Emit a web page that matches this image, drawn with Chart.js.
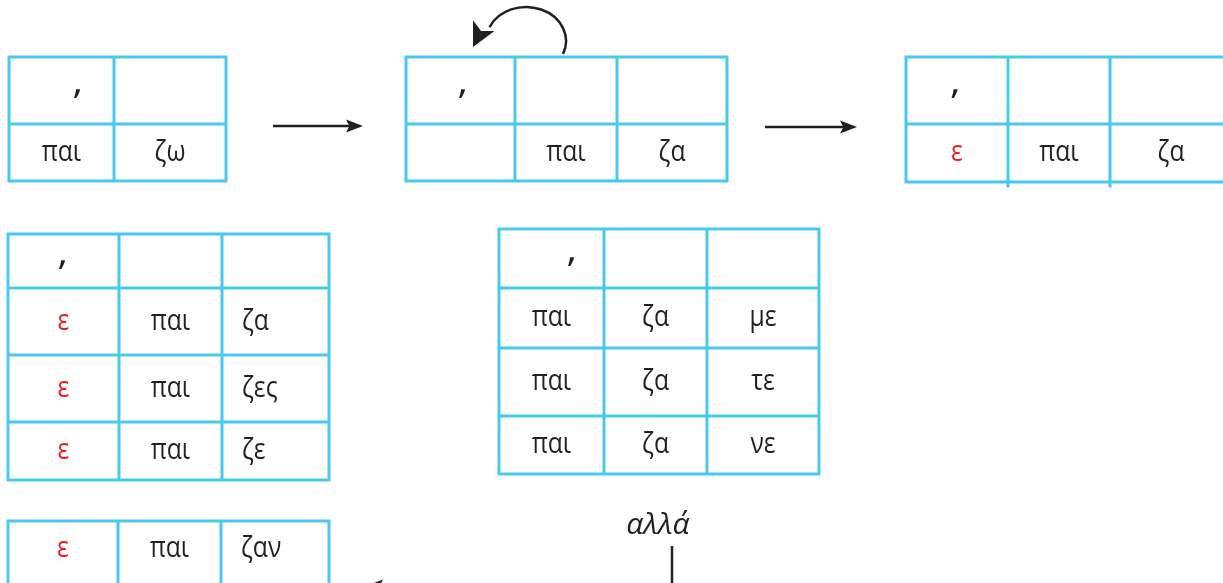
<!DOCTYPE html>
<html><head><meta charset="utf-8">
<script src="https://cdn.jsdelivr.net/npm/chart.js@4/dist/chart.umd.min.js"></script>
<style>html,body{margin:0;padding:0;background:#fff}#wrap{width:1223px;height:583px;position:relative}</style>
</head><body><div id="wrap"><canvas id="c"></canvas></div>
<script>
// ---- data (cell contents) ----
const ACCENT = "\u0384";
const table1 = [[ACCENT, ""], ["παι", "ζω"]];
const table2 = [[ACCENT, "", ""], ["", "παι", "ζα"]];
const table3 = [[ACCENT, "", ""], ["ε", "παι", "ζα"]];
const table4 = [[ACCENT, "", ""], ["ε", "παι", "ζα"], ["ε", "παι", "ζες"], ["ε", "παι", "ζε"]];
const table5 = [[ACCENT, "", ""], ["παι", "ζα", "με"], ["παι", "ζα", "τε"], ["παι", "ζα", "νε"]];
const table6 = [["ε", "παι", "ζαν"]];
const augment = "ε";
const conjunction = "αλλά";

// ---- layout (positions / styles) ----
const GRID = "#48c9f2", INK = "#231f20", RED = "#ec1c24";
const FONT = "'Open Sans', 'Noto Sans', sans-serif";
const layout = [
  {rows: table1, xs: [9, 114, 226], ys: [57, 124, 181], accentDx: 16},
  {rows: table2, xs: [406, 515, 617, 727], ys: [57, 124, 181], accentDx: 2},
  {rows: table3, xs: [906, 1008, 1110, 1232], ys: [57, 124, 182], accentDx: -2, innerExtend: 4},
  {rows: table4, xs: [8, 119, 222, 329], ys: [234, 288, 355, 422, 480], accentDx: -1, leftLast: 20},
  {rows: table5, xs: [499, 604, 707, 819], ys: [229, 288, 348, 416, 474], accentDx: 20},
  {rows: table6, xs: [8, 118, 221, 329], ys: [521, 600], textCy: [549], leftLast: 20}
];
const straightArrows = [
  {x1: 273, y1: 126, x2: 363, y2: 126},
  {x1: 765, y1: 127, x2: 857, y2: 127}
];
const stemLine = {x: 672, y1: 546, y2: 600};
const bottomArrow = {x1: 672, y1: 586, x2: 366, y2: 586};
const curve = {cx: 526, cy: 41, rx: 40, ry: 34, a0: 0.39, a1: -2.72, tip: [473, 47]};
const conjPos = {x: 658, y: 534};

// grid line dataset built from layout
const gridPts = [];
layout.forEach(t => {
  const x0 = t.xs[0], xN = t.xs[t.xs.length - 1], y0 = t.ys[0], yN = t.ys[t.ys.length - 1];
  t.ys.forEach(y => { gridPts.push({x: x0, y: y}, {x: xN, y: y}, {x: null, y: null}); });
  t.xs.forEach((x, i) => {
    const inner = i > 0 && i < t.xs.length - 1;
    gridPts.push({x: x, y: y0}, {x: x, y: yN + (inner && t.innerExtend ? t.innerExtend : 0)}, {x: null, y: null});
  });
});
const shaftPts = [];
straightArrows.forEach(a => shaftPts.push({x: a.x1, y: a.y1}, {x: a.x2 - 12, y: a.y2}, {x: null, y: null}));
shaftPts.push({x: stemLine.x, y: stemLine.y1}, {x: stemLine.x, y: stemLine.y2}, {x: null, y: null});
shaftPts.push({x: bottomArrow.x1, y: bottomArrow.y1}, {x: bottomArrow.x2 + 12, y: bottomArrow.y2});

function head(ctx, tx, ty, fx, fy, len, half, notch) {
  const ang = Math.atan2(ty - fy, tx - fx);
  ctx.save();
  ctx.translate(tx, ty); ctx.rotate(ang);
  ctx.beginPath();
  ctx.moveTo(0, 0); ctx.lineTo(-len, -half); ctx.lineTo(-len * (notch || 0.8), 0); ctx.lineTo(-len, half);
  ctx.closePath(); ctx.fillStyle = INK; ctx.fill();
  ctx.restore();
}

const diagramPlugin = {
  id: 'diagram',
  afterDatasetsDraw(chart) {
    const ctx = chart.ctx, sx = chart.scales.x, sy = chart.scales.y;
    const X = v => sx.getPixelForValue(v), Y = v => sy.getPixelForValue(v);
    ctx.save();
    layout.forEach(t => {
      t.rows.forEach((row, ri) => {
        const yTop = Y(t.ys[ri]), yBot = Y(t.ys[ri + 1]);
        const yc = t.textCy ? Y(t.textCy[ri]) : (yTop + yBot) / 2;
        row.forEach((txt, ci) => {
          if (!txt) return;
          const xl = X(t.xs[ci]), xr = X(t.xs[ci + 1]);
          const xc = (xl + xr) / 2;
          if (txt === ACCENT) {
            ctx.font = "500 44px " + FONT;
            ctx.fillStyle = INK;
            ctx.textAlign = 'left';
            ctx.textBaseline = 'alphabetic';
            const m = ctx.measureText(txt);
            const midY = (m.actualBoundingBoxDescent - m.actualBoundingBoxAscent) / 2;
            const midX = (m.actualBoundingBoxRight - m.actualBoundingBoxLeft) / 2;
            ctx.fillText(txt, xc + (t.accentDx || 0) - midX, yc + 3 - midY);
            return;
          }
          ctx.font = "29px " + FONT;
          ctx.fillStyle = txt === augment ? RED : INK;
          ctx.textBaseline = 'alphabetic';
          const left = t.leftLast && ci === row.length - 1;
          ctx.textAlign = left ? 'left' : 'center';
          const px = left ? xl + t.leftLast : xc;
          ctx.save();
          ctx.translate(px, yc + 8);
          ctx.scale(0.85, 1);
          ctx.fillText(txt, 0, 0);
          ctx.restore();
        });
      });
    });
    // arrow heads
    straightArrows.forEach(a => head(ctx, X(a.x2), Y(a.y2), X(a.x1), Y(a.y1), 17, 6.5));
    head(ctx, X(bottomArrow.x2), Y(bottomArrow.y2), X(bottomArrow.x1), Y(bottomArrow.y1), 17, 6.5);
    // curved arrow
    ctx.beginPath();
    ctx.lineWidth = 2.5; ctx.strokeStyle = INK;
    ctx.ellipse(X(curve.cx), Y(curve.cy), curve.rx, curve.ry, 0, curve.a0, curve.a1, true);
    ctx.stroke();
    head(ctx, X(curve.tip[0]), Y(curve.tip[1]), X(484), Y(25), 24, 12, 0.75);
    // conjunction
    ctx.font = "italic 30px " + FONT;
    ctx.fillStyle = INK; ctx.textAlign = 'center'; ctx.textBaseline = 'alphabetic';
    ctx.fillText(conjunction, X(conjPos.x), Y(conjPos.y));
    ctx.restore();
  }
};

new Chart(document.getElementById('c'), {
  type: 'scatter',
  data: {datasets: [
    {data: gridPts, showLine: true, spanGaps: false, borderColor: GRID, borderWidth: 3, pointRadius: 0, borderCapStyle: 'square', borderJoinStyle: 'miter'},
    {data: shaftPts, showLine: true, spanGaps: false, borderColor: INK, borderWidth: 2.5, pointRadius: 0, borderCapStyle: 'butt'}
  ]},
  options: {
    responsive: true, maintainAspectRatio: false, animation: false,
    layout: {padding: 0},
    plugins: {legend: {display: false}, tooltip: {enabled: false}},
    events: [],
    scales: {
      x: {type: 'linear', min: 0, max: 1223, display: false},
      y: {type: 'linear', min: 0, max: 583, reverse: true, display: false}
    }
  },
  plugins: [diagramPlugin]
});
</script></body></html>
